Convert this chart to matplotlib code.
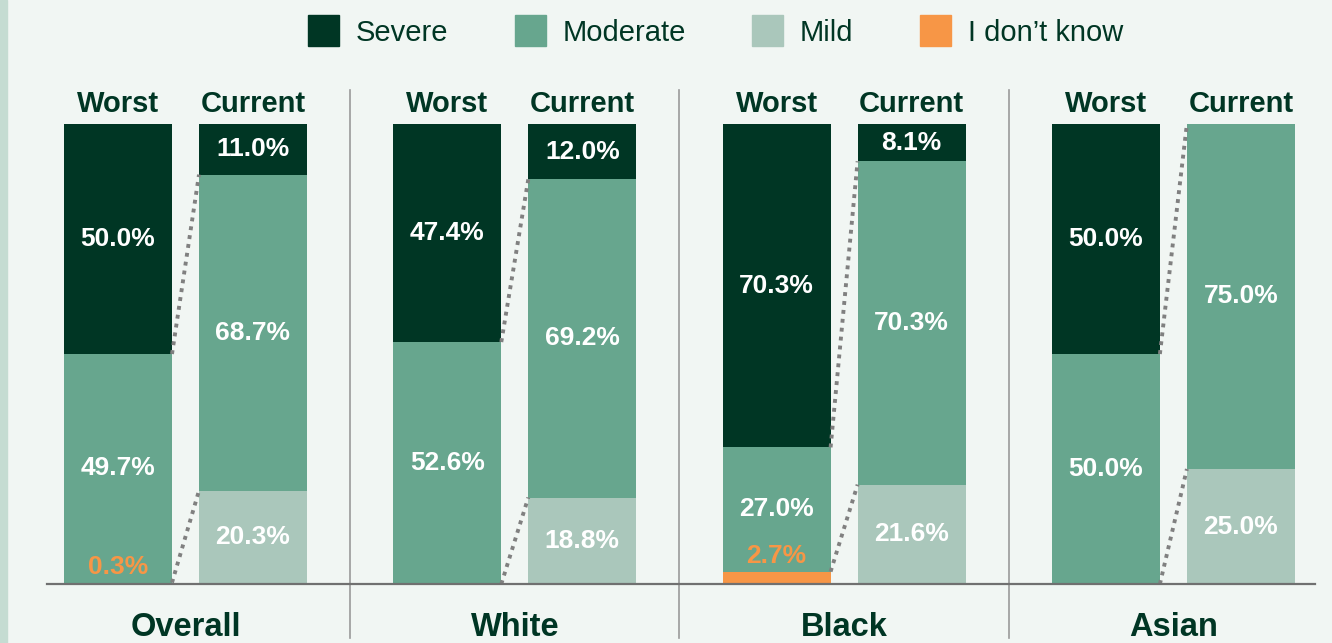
import matplotlib
matplotlib.use("Agg")
import matplotlib.pyplot as plt
from matplotlib.patches import Rectangle
import numpy as np

plt.rcParams['font.family'] = ['Liberation Sans', 'DejaVu Sans']

groups = ["Overall", "White", "Black", "Asian"]
bars = ["Worst", "Current"]
categories = ["Severe", "Moderate", "Mild", "I don\u2019t know"]

# values per group: [worst, current]
severe = [[50.0, 11.0], [47.4, 12.0], [70.3, 8.1], [50.0, 0.0]]
moderate = [[49.7, 68.7], [52.6, 69.2], [27.0, 70.3], [50.0, 75.0]]
mild = [[0.0, 20.3], [0.0, 18.8], [0.0, 21.6], [0.0, 25.0]]
dont_know = [[0.3, 0.0], [0.0, 0.0], [2.7, 0.0], [0.0, 0.0]]

colors = {"Severe": "#003624", "Moderate": "#67a68e", "Mild": "#aac7bb", "I don\u2019t know": "#f79646"}
text_dark = "#003624"
bg = "#f1f6f3"

W, H = 1332, 643
fig = plt.figure(figsize=(W / 100, H / 100), dpi=100, facecolor=bg)
fig.patches.append(Rectangle((0, 0), 7 / W, 1, transform=fig.transFigure, color="#c5dcd2", zorder=0))

unit = 329.3
x0 = 118
ax = fig.add_axes([0, (H - 584) / H, 1, 460 / H])
ax.set_facecolor(bg)
ax.patch.set_alpha(0)
ax.set_xlim(-x0 / unit, (W - x0) / unit)
ax.set_ylim(0, 100)
ax.axis("off")

off = 135 / unit
bw = 108 / unit
px = 100 / 460  # data units per pixel in y

for g, grp in enumerate(groups):
    xs = [g, g + off]
    for b in range(2):
        stack = [("I don\u2019t know", dont_know[g][b]), ("Mild", mild[g][b]),
                 ("Moderate", moderate[g][b]), ("Severe", severe[g][b])]
        bottom = 0
        for cat, v in stack:
            if v > 0:
                ax.bar(xs[b], v, bottom=bottom, width=bw, color=colors[cat], zorder=2)
                if cat == "I don\u2019t know":
                    ax.text(xs[b], bottom + v + 16 * px, f"{v:.1f}%", ha="center", va="center",
                            color=colors[cat], fontsize=19, fontweight="bold", zorder=4)
                else:
                    ax.text(xs[b], bottom + v / 2, f"{v:.1f}%", ha="center", va="center",
                            color="white", fontsize=19, fontweight="bold", zorder=4)
            bottom += v
        ax.text(xs[b], 100 + 20 * px, bars[b], ha="center", va="center", color=text_dark,
                fontsize=21, fontweight="bold")
    # connectors
    w_mod_top = dont_know[g][0] + mild[g][0] + moderate[g][0]
    c_mod_top = dont_know[g][1] + mild[g][1] + moderate[g][1]
    w_low = dont_know[g][0]
    c_low = dont_know[g][1] + mild[g][1]
    for y1, y2 in [(w_mod_top, c_mod_top), (w_low, c_low)]:
        ax.plot([g + bw / 2, g + off - bw / 2], [y1, y2], color="#808080", lw=2.8,
                linestyle=(0, (1, 1.3)), zorder=3, clip_on=False)
    ax.text(g + off / 2, -43.5 * px, grp, ha="center", va="center", color=text_dark,
            fontsize=23.5, fontweight="bold", clip_on=False)
    if g < len(groups) - 1:
        sx = (g + off + g + 1) / 2
        ax.plot([sx, sx], [(584 - 90) * px, (584 - 638) * px], color="#9a9a9a", lw=1.2,
                clip_on=False, zorder=1)

ax.plot([(47 - x0) / unit, (1315 - x0) / unit], [0, 0], color="#707070", lw=1.6,
        clip_on=False, zorder=3)

# legend
leg_sq_x = [308, 515, 752, 920]
for cat, lx in zip(categories, leg_sq_x):
    fig.patches.append(Rectangle((lx / W, (H - 46) / H), 31 / W, 31 / H, transform=fig.transFigure,
                                 color=colors[cat]))
    fig.text((lx + 48) / W, (H - 33) / H, cat, ha="left", va="center", color=text_dark, fontsize=21)

fig.savefig("out.png", dpi=100, facecolor=bg)
